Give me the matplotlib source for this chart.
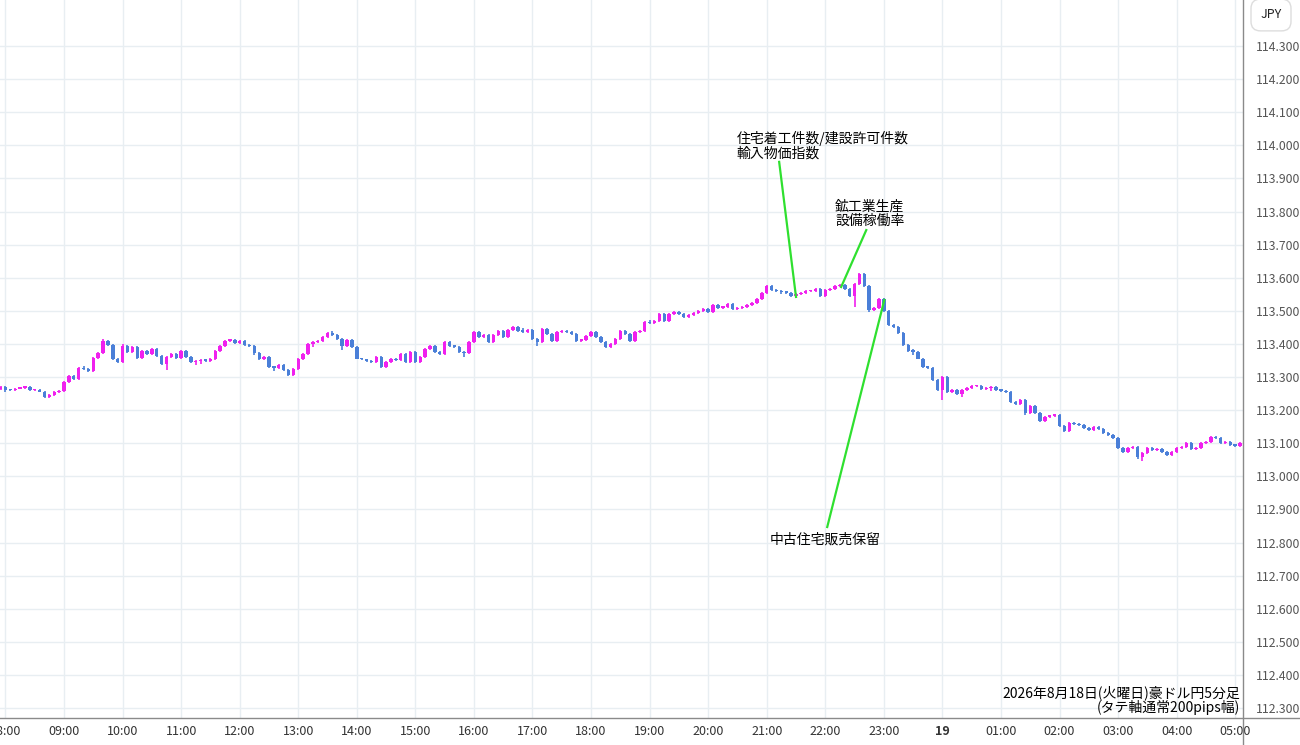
import matplotlib.pyplot as plt
from matplotlib.lines import Line2D
import numpy as np

plt.rcParams['font.family'] = ['Noto Sans CJK JP', 'DejaVu Sans']

# AUD/JPY 5-minute candles, 07:55 -> 05:05 (one row per hour)
first_open = 113.265
closes = [
    113.270, 113.262, 113.260, 113.265, 113.268, 113.269, 113.260, 113.262, 113.256, 113.241, 113.246, 113.255,
    113.258, 113.285, 113.303, 113.295, 113.327, 113.324, 113.318, 113.358, 113.372, 113.410, 113.398, 113.356,
    113.345, 113.395, 113.376, 113.390, 113.357, 113.378, 113.371, 113.385, 113.365, 113.340, 113.360, 113.370,
    113.358, 113.378, 113.362, 113.345, 113.348, 113.352, 113.349, 113.354, 113.378, 113.395, 113.410, 113.412,
    113.402, 113.410, 113.396, 113.393, 113.372, 113.355, 113.362, 113.330, 113.328, 113.336, 113.320, 113.306,
    113.325, 113.355, 113.370, 113.400, 113.405, 113.408, 113.420, 113.432, 113.428, 113.415, 113.395, 113.412,
    113.390, 113.356, 113.353, 113.348, 113.344, 113.360, 113.330, 113.345, 113.355, 113.351, 113.370, 113.345,
    113.375, 113.345, 113.360, 113.385, 113.395, 113.375, 113.370, 113.405, 113.395, 113.392, 113.375, 113.372,
    113.405, 113.437, 113.420, 113.428, 113.405, 113.428, 113.438, 113.420, 113.442, 113.450, 113.440, 113.437,
    113.442, 113.415, 113.405, 113.445, 113.430, 113.410, 113.435, 113.440, 113.436, 113.431, 113.410, 113.413,
    113.425, 113.435, 113.420, 113.405, 113.390, 113.400, 113.415, 113.440, 113.430, 113.410, 113.435, 113.440,
    113.465, 113.463, 113.468, 113.490, 113.468, 113.490, 113.495, 113.489, 113.481, 113.488, 113.493, 113.500,
    113.506, 113.495, 113.518, 113.510, 113.513, 113.520, 113.505, 113.509, 113.511, 113.519, 113.525, 113.535,
    113.555, 113.575, 113.562, 113.559, 113.557, 113.555, 113.545, 113.550, 113.555, 113.559, 113.561, 113.566,
    113.546, 113.563, 113.566, 113.574, 113.578, 113.566, 113.546, 113.580, 113.610, 113.576, 113.502, 113.508,
    113.535, 113.500, 113.457, 113.451, 113.432, 113.396, 113.380, 113.377, 113.356, 113.331, 113.328, 113.290,
    113.260, 113.300, 113.255, 113.262, 113.250, 113.262, 113.268, 113.272, 113.274, 113.264, 113.266, 113.270,
    113.261, 113.259, 113.254, 113.225, 113.218, 113.232, 113.190, 113.213, 113.190, 113.166, 113.180, 113.183,
    113.186, 113.152, 113.137, 113.160, 113.157, 113.155, 113.145, 113.140, 113.148, 113.142, 113.130, 113.125,
    113.115, 113.086, 113.075, 113.085, 113.090, 113.058, 113.070, 113.085, 113.080, 113.083, 113.073, 113.065,
    113.075, 113.085, 113.088, 113.102, 113.082, 113.086, 113.100, 113.104, 113.120, 113.115, 113.100, 113.105,
    113.095, 113.093, 113.100,
]

# wick lengths beyond the body, in 0.001 yen
upper_wick = [
    2, 3, 2, 3, 2, 3, 3, 2, 2, 2, 2, 3,
    2, 4, 4, 3, 3, 6, 3, 3, 3, 4, 3, 3,
    3, 4, 3, 3, 4, 3, 3, 3, 3, 3, 4, 3,
    3, 3, 3, 3, 3, 3, 3, 3, 3, 3, 3, 3,
    3, 3, 3, 3, 3, 3, 3, 3, 3, 3, 3, 3,
    3, 3, 3, 3, 3, 3, 3, 3, 8, 3, 3, 3,
    3, 3, 3, 3, 3, 3, 3, 3, 3, 3, 3, 3,
    3, 3, 3, 3, 3, 3, 3, 3, 3, 3, 3, 3,
    3, 3, 3, 3, 3, 3, 3, 3, 3, 3, 3, 8,
    3, 3, 3, 3, 3, 3, 3, 3, 3, 3, 3, 3,
    3, 3, 3, 3, 3, 3, 3, 3, 3, 3, 3, 3,
    3, 6, 3, 3, 3, 3, 3, 3, 3, 3, 3, 3,
    3, 3, 3, 3, 3, 3, 3, 3, 3, 3, 3, 3,
    3, 3, 3, 3, 3, 3, 3, 3, 3, 3, 3, 3,
    3, 3, 3, 3, 3, 3, 3, 5, 3, 3, 3, 3,
    3, 3, 3, 3, 3, 3, 3, 4, 3, 3, 3, 3,
    3, 3, 3, 3, 3, 3, 3, 3, 3, 3, 3, 3,
    3, 3, 3, 3, 3, 3, 3, 3, 3, 3, 3, 3,
    3, 3, 3, 3, 3, 3, 3, 3, 3, 3, 3, 3,
    3, 3, 3, 3, 3, 3, 3, 5, 3, 3, 3, 3,
    3, 3, 3, 3, 3, 3, 3, 3, 3, 3, 3, 3,
    3, 3, 3,
]
lower_wick = [
    3, 8, 3, 3, 2, 3, 3, 2, 2, 4, 4, 2,
    2, 3, 3, 3, 3, 3, 3, 3, 3, 3, 3, 5,
    4, 3, 3, 4, 3, 3, 3, 3, 3, 4, 20, 3,
    3, 3, 3, 4, 9, 8, 3, 3, 3, 3, 3, 3,
    3, 3, 3, 3, 4, 3, 3, 4, 10, 3, 3, 3,
    3, 3, 3, 3, 10, 3, 3, 3, 3, 3, 12, 3,
    3, 3, 3, 3, 3, 3, 4, 3, 3, 3, 3, 3,
    3, 3, 3, 3, 3, 3, 3, 3, 3, 3, 3, 10,
    3, 3, 3, 3, 3, 3, 3, 3, 3, 3, 3, 3,
    3, 3, 10, 3, 3, 3, 3, 3, 3, 3, 3, 5,
    3, 3, 3, 3, 3, 3, 3, 3, 3, 3, 3, 3,
    3, 3, 3, 3, 3, 3, 3, 3, 3, 3, 3, 3,
    3, 3, 3, 3, 3, 3, 3, 3, 3, 3, 3, 3,
    3, 3, 3, 3, 5, 3, 3, 3, 3, 3, 3, 3,
    3, 3, 3, 3, 3, 3, 3, 35, 3, 3, 6, 3,
    3, 3, 3, 3, 3, 3, 3, 10, 3, 3, 3, 3,
    3, 30, 3, 3, 3, 10, 3, 3, 3, 3, 3, 8,
    3, 3, 3, 3, 3, 3, 5, 3, 3, 3, 3, 3,
    3, 3, 3, 3, 3, 3, 3, 3, 3, 3, 3, 3,
    3, 3, 4, 3, 3, 5, 12, 3, 3, 3, 3, 3,
    3, 3, 3, 3, 3, 3, 3, 3, 3, 3, 3, 3,
    3, 3, 3,
]

hour_labels = ['08:00', '09:00', '10:00', '11:00', '12:00', '13:00', '14:00', '15:00',
               '16:00', '17:00', '18:00', '19:00', '20:00', '21:00', '22:00', '23:00',
               '19', '01:00', '02:00', '03:00', '04:00', '05:00']
hour_candles = [1 + 12 * k for k in range(len(hour_labels))]

price_ticks = [112.3, 112.4, 112.5, 112.6, 112.7, 112.8, 112.9, 113.0, 113.1, 113.2, 113.3,
               113.4, 113.5, 113.6, 113.7, 113.8, 113.9, 114.0, 114.1, 114.2, 114.3]

# economic events: (label, candle index, price) each line is pinned to
events = [
    ('住宅着工件数/建設許可件数\n輸入物価指数', 163.0, 113.542),
    ('鉱工業生産\n設備稼働率', 172.25, 113.572),
    ('中古住宅販売保留', 181.1, 113.533),
]

UP = '#f020ee'
DOWN = '#4a7fd8'
GRID = '#e8eef2'
EDGE = '#8a8a8a'

closes = np.array(closes)
opens = np.concatenate([[first_open], closes[:-1]])
highs = np.maximum(opens, closes) + np.array(upper_wick) / 1000
lows = np.minimum(opens, closes) - np.array(lower_wick) / 1000
idx = np.arange(len(closes))
colors = [UP if c >= o else DOWN for o, c in zip(opens, closes)]

fig = plt.figure(figsize=(13, 7.45), dpi=100)
ax = fig.add_axes([0, 27 / 745, 1243 / 1300, 718 / 745])

ax.vlines(idx, lows, highs, colors=colors, linewidth=1.2, zorder=3)
body = np.maximum(np.abs(closes - opens), 0.004)
ax.bar(idx, body, bottom=np.minimum(opens, closes), width=0.7, color=colors, zorder=4)

ax.set_xlim(-0.12, 254.6)
ax.set_ylim(112.270, 114.439)

ax.set_xticks(hour_candles)
ax.set_xticklabels(hour_labels)
for lbl in ax.get_xticklabels():
    if lbl.get_text() == '19':
        lbl.set_fontweight('bold')
ax.set_yticks(price_ticks)
ax.set_yticklabels([f'{p:.3f}' for p in price_ticks])
ax.yaxis.tick_right()
ax.tick_params(axis='x', length=0, pad=5, labelsize=9, colors='#333333')
ax.tick_params(axis='y', length=0, pad=9, labelsize=8.8, colors='#555555')
for lbl in ax.get_yticklabels():
    lbl.set_horizontalalignment('left')

ax.grid(True, color=GRID, linewidth=1.0, zorder=0)
ax.set_axisbelow(True)
for side in ['top', 'left', 'bottom', 'right']:
    ax.spines[side].set_visible(False)

# chart frame lines that run into the axis areas
fig.add_artist(Line2D([0, 1], [27 / 745, 27 / 745], color=EDGE, linewidth=1.0))
fig.add_artist(Line2D([1243 / 1300, 1243 / 1300], [0, 1], color=EDGE, linewidth=1.0))

# event lines and labels
green = '#2fe02f'
ax.plot([159.55, events[0][1]], [113.950, events[0][2]], color=green, lw=1.6, zorder=5)
ax.plot([177.4, events[1][1]], [113.744, events[1][2]], color=green, lw=1.6, zorder=5)
ax.plot([events[2][1], 169.4], [events[2][2], 112.847], color=green, lw=1.6, zorder=5)

line1, line2 = events[0][0].split('\n')
ax.text(150.9, 114.021, line1, fontsize=10, va='center', ha='left')
ax.text(150.9, 113.976, line2, fontsize=10, va='center', ha='left')
line1, line2 = events[1][0].split('\n')
ax.text(171.0, 113.816, line1, fontsize=10, va='center', ha='left')
ax.text(171.0, 113.771, line2, fontsize=10, va='center', ha='left')
ax.text(169.0, 112.808, events[2][0], fontsize=10, va='center', ha='center')

ax.text(254.0, 112.347, '2026年8月18日(火曜日)豪ドル円5分足', fontsize=10, va='center', ha='right', zorder=6)
ax.text(254.0, 112.303, '(タテ軸通常200pips幅)', fontsize=10, va='center', ha='right', zorder=6)

fig.text(1271 / 1300, 1 - 15 / 745, 'JPY', fontsize=9, ha='center', va='center', color='#222222',
         bbox=dict(boxstyle='round,pad=0.75', fc='white', ec='#dddddd', lw=1.0))

fig.savefig('out.png', dpi=100)
